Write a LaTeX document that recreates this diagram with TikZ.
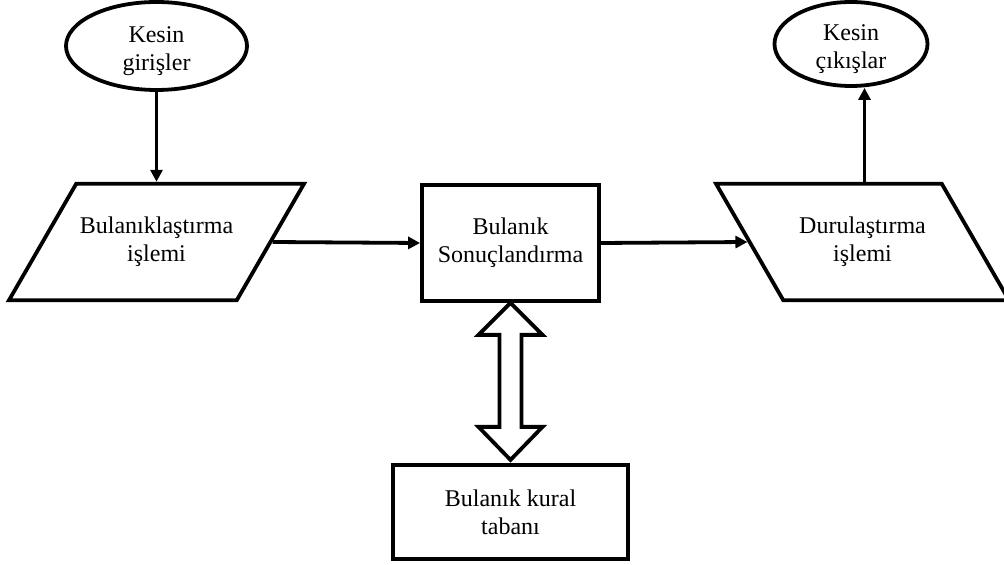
\documentclass[tikz,border=0pt]{standalone}
\usepackage{fontspec}
\setmainfont{Liberation Serif}
\usepackage{tikz}
\usetikzlibrary{arrows.meta, positioning, shapes.geometric}
\newcommand{\alcak}[1]{\raisebox{-2.5pt}[\height][\depth]{#1}} % lowers a line, keeps its size
\tikzset{
>={Triangle[length=6pt,width=6pt]}, % filled arrow heads
every node/.style={font=\fontsize{12}{14}\selectfont, align=center},
uc/.style={draw, ellipse, line width=1.9pt, inner sep=0pt}, % input / output ellipses
islem/.style={draw, trapezium, trapezium stretches body, line width=1.9pt,
  minimum width=146.5pt, inner xsep=1.8pt, inner ysep=16.7pt}, % parallelograms
kutu/.style={draw, rectangle, line width=1.9pt}, % boxes
ok/.style={->, line width=1.9pt}, % plain arrows
cift/.style={line width=1.9pt, line join=miter}, % block double arrow
}

\begin{document}
\begin{tikzpicture}[x=0.5pt, y=-0.5pt]
  \useasboundingbox (0,0) rectangle (1004,565);
  \node[islem, trapezium left angle=60, trapezium right angle=120] (bul) at (156.5,242) {Bulanıklaştırma\\işlemi};
  \node[uc, minimum width=90.5pt, minimum height=44pt] (kg) at (156.5,46) {\alcak{Kesin}\\\alcak{girişler}};
  \node[kutu, minimum width=88.5pt, minimum height=58pt] (son) at (510.5,243) {Bulanık\\Sonuçlandırma};
  \node[islem, trapezium left angle=120, trapezium right angle=60] (dur) at (862.5,242) {Durulaştırma\\işlemi};
  \node[uc, minimum width=76.5pt, minimum height=42pt] (kc) at (851,44) {\alcak{Kesin}\\\alcak{çıkışlar}};
  \node[kutu, minimum width=117.5pt, minimum height=47pt, below=80pt of son] (kural) {Bulanık kural\\tabanı};

  \draw[ok] (kg) -- (bul);
  \draw[ok] (bul.east) -- (son.west);
  \draw[ok] (son.east) -- (dur.west);
  \draw[ok] ([xshift=1pt]dur.north) -- ([xshift=1pt]dur.north |- kc.south);

  % two way block arrow between inference and rule base
  \draw[cift] (son.south) -- ++(32,32) -- ++(-21,0) -- ++(0,92) -- ++(21,0)
    -- ++(-32,33) -- ++(-32,-33) -- ++(21,0) -- ++(0,-92) -- ++(-21,0) -- cycle;
\end{tikzpicture}
\end{document}
